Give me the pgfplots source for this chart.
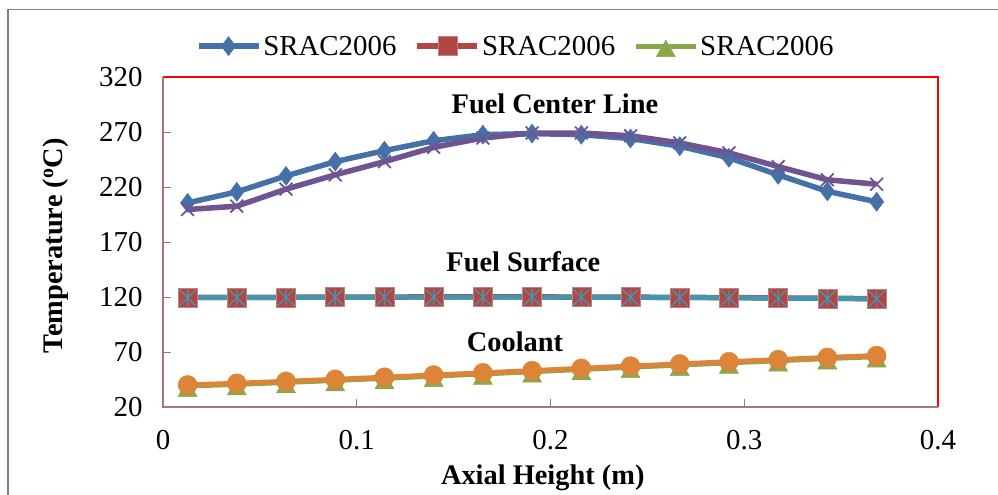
\documentclass[border=0pt]{standalone}
\usepackage{fontspec}
\setmainfont{Liberation Serif}
\usepackage{pgfplots}
\pgfplotsset{compat=1.18}
\definecolor{cblue}{RGB}{68,114,168}
\definecolor{cred}{RGB}{178,70,66}
\definecolor{cgreen}{RGB}{138,168,74}
\definecolor{cpurple}{RGB}{112,84,146}
\definecolor{ccyan}{RGB}{66,150,176}
\definecolor{corange}{RGB}{220,132,56}
\definecolor{cframe}{RGB}{172,118,118}
\pgfdeclareplotmark{xstar}{%
  \pgfpathmoveto{\pgfqpoint{-\pgfplotmarksize}{-\pgfplotmarksize}}%
  \pgfpathlineto{\pgfqpoint{\pgfplotmarksize}{\pgfplotmarksize}}%
  \pgfpathmoveto{\pgfqpoint{-\pgfplotmarksize}{\pgfplotmarksize}}%
  \pgfpathlineto{\pgfqpoint{\pgfplotmarksize}{-\pgfplotmarksize}}%
  \pgfpathmoveto{\pgfqpoint{0pt}{-\pgfplotmarksize}}%
  \pgfpathlineto{\pgfqpoint{0pt}{\pgfplotmarksize}}%
  \pgfusepathqstroke}
\begin{document}
\begin{tikzpicture}[x=1bp,y=1bp]
\path[use as bounding box] (0,0) rectangle (998,495);
\draw[gray, line width=1.5bp] (8,0) -- (8,485.5) -- (998,485.5);
\begin{axis}[
  at={(163bp,87.5bp)}, anchor=south west,
  width=775bp, height=330bp, scale only axis,
  xmin=0, xmax=0.4, ymin=20, ymax=320,
  xtick={0,0.1,0.2,0.3,0.4}, ytick={20,70,120,170,220,270,320},
  tick align=inside, tick pos=left, major tick length=8bp,
  tick style={draw=gray, line width=1.2bp},
  axis line style={draw=none},
  /pgf/number format/assume math mode=true,
  /pgf/number format/fixed,
  ticklabel style={font=\fontsize{29}{32}\selectfont},
  yticklabel style={xshift=-17bp},
  xticklabel style={yshift=-19bp},
  xlabel={Axial Height (m)},
  ylabel={Temperature (\textsuperscript{o}C)},
  label style={font=\bfseries\fontsize{28.5}{32}\selectfont},
  xlabel style={at={(axis description cs:0.49,-0.212)}, anchor=center},
  ylabel style={at={(axis description cs:-0.139,0.49)}, anchor=center},
  clip=false,
  legend columns=3,
  legend style={draw=none, fill=none, at={(axis description cs:0.455,1.095)}, anchor=center,
    font=\fontsize{29}{32}\selectfont, inner sep=0pt,
    /tikz/every even column/.append style={column sep=16bp}},
  legend image code/.code={\draw[mark repeat=2, mark phase=2, #1] plot coordinates {(0bp,0bp) (30bp,0bp) (60bp,0bp)};},
]
\addplot[color=cblue, line width=5.5bp, mark=diamond*, mark size=9.5bp,
  mark options={solid, fill=cblue, draw=cblue, line width=0.5bp}] coordinates {
(0.0127,206) (0.0381,216) (0.0635,230.5) (0.0889,243.5) (0.1143,253.5) (0.1397,262.5) (0.1651,268) (0.1905,269)
(0.2159,268) (0.2413,264.5) (0.2667,257.5) (0.2921,247) (0.3175,231.5) (0.3429,216.5) (0.3683,207)};
\addlegendentry{SRAC2006}
\addplot[color=cred, line width=5.5bp, mark=square*, mark size=9.5bp,
  mark options={solid, fill=cred, draw=cred!70!white, line width=0.5bp}] coordinates {
(0.0127,120.0) (0.0381,120.0) (0.0635,120.2) (0.0889,120.3) (0.1143,120.4) (0.1397,120.5) (0.1651,120.5) (0.1905,120.5)
(0.2159,120.4) (0.2413,120.3) (0.2667,120.1) (0.2921,119.9) (0.3175,119.6) (0.3429,119.3) (0.3683,118.9)};
\addlegendentry{SRAC2006}
\addplot[color=cgreen, line width=5bp, mark=triangle*, mark size=11bp,
  mark options={solid, fill=cgreen, draw=cgreen, line width=0.5bp, yshift=-5bp}] coordinates {
(0.0127,39.5) (0.0381,41.0) (0.0635,42.8) (0.0889,44.6) (0.1143,46.5) (0.1397,48.5) (0.1651,50.5) (0.1905,52.5)
(0.2159,54.6) (0.2413,56.6) (0.2667,58.6) (0.2921,60.6) (0.3175,62.5) (0.3429,64.5) (0.3683,66.2)};
\addlegendentry{SRAC2006}
\addplot[forget plot, color=cpurple, line width=5.5bp, mark=x, mark size=9bp,
  mark options={solid, draw=cpurple, line width=1.8bp}] coordinates {
(0.0127,200) (0.0381,203) (0.0635,218.5) (0.0889,231.5) (0.1143,243.5) (0.1397,256.5) (0.1651,265) (0.1905,269.5)
(0.2159,269.5) (0.2413,267) (0.2667,260.5) (0.2921,251.5) (0.3175,239) (0.3429,227) (0.3683,223)};
\addplot[forget plot, color=ccyan, line width=5bp, mark=xstar, mark size=8bp,
  mark options={solid, draw=ccyan, line width=1.3bp}] coordinates {
(0.0127,119.8) (0.0381,119.8) (0.0635,120.0) (0.0889,120.1) (0.1143,120.2) (0.1397,120.3) (0.1651,120.3) (0.1905,120.3)
(0.2159,120.2) (0.2413,120.1) (0.2667,119.9) (0.2921,119.7) (0.3175,119.4) (0.3429,119.1) (0.3683,118.7)};
\addplot[forget plot, color=corange, line width=5bp, mark=*, mark size=9.5bp,
  mark options={solid, fill=corange, draw=corange, line width=0.5bp}] coordinates {
(0.0127,40.5) (0.0381,42.0) (0.0635,43.8) (0.0889,45.6) (0.1143,47.5) (0.1397,49.5) (0.1651,51.5) (0.1905,53.5)
(0.2159,55.6) (0.2413,57.6) (0.2667,59.6) (0.2921,61.6) (0.3175,63.5) (0.3429,65.5) (0.3683,67.2)};
\draw[red, line width=2bp] (rel axis cs:0,1) -- (rel axis cs:1,1) -- (rel axis cs:1,0);
\draw[cframe, line width=2bp] (rel axis cs:1,0) -- (rel axis cs:0,0) -- (rel axis cs:0,1);
\node[font=\bfseries\fontsize{28.5}{32}\selectfont] at (axis cs:0.2023,296) {Fuel Center Line};
\node[font=\bfseries\fontsize{28.5}{32}\selectfont] at (axis cs:0.186,153) {Fuel Surface};
\node[font=\bfseries\fontsize{28.5}{32}\selectfont] at (axis cs:0.1817,79.3) {Coolant};
\end{axis}
\end{tikzpicture}
\end{document}
